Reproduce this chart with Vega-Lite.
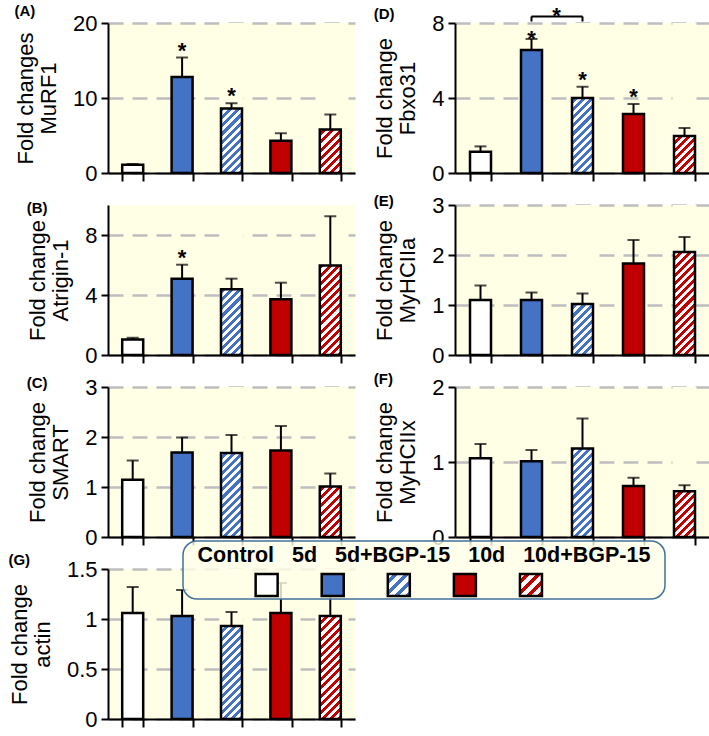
{
"$schema": "https://vega.github.io/schema/vega-lite/v6.json",
"padding": {"left": 8, "top": 4, "right": 2, "bottom": 2},
"background": "white",
"params": [
{"name": "gb", "value": {"gradient": "linear", "x1": 0, "y1": 0, "x2": 0.1565, "y2": 1.1181, "stops": [
{"offset":0,"color":"#fff"},{"offset":0.0238,"color":"#fff"},{"offset":0.0238,"color":"#4472c4"},{"offset":0.0476,"color":"#4472c4"},
{"offset":0.0476,"color":"#fff"},{"offset":0.0714,"color":"#fff"},{"offset":0.0714,"color":"#4472c4"},{"offset":0.0952,"color":"#4472c4"},
{"offset":0.0952,"color":"#fff"},{"offset":0.119,"color":"#fff"},{"offset":0.119,"color":"#4472c4"},{"offset":0.1429,"color":"#4472c4"},
{"offset":0.1429,"color":"#fff"},{"offset":0.1667,"color":"#fff"},{"offset":0.1667,"color":"#4472c4"},{"offset":0.1905,"color":"#4472c4"},
{"offset":0.1905,"color":"#fff"},{"offset":0.2143,"color":"#fff"},{"offset":0.2143,"color":"#4472c4"},{"offset":0.2381,"color":"#4472c4"},
{"offset":0.2381,"color":"#fff"},{"offset":0.2619,"color":"#fff"},{"offset":0.2619,"color":"#4472c4"},{"offset":0.2857,"color":"#4472c4"},
{"offset":0.2857,"color":"#fff"},{"offset":0.3095,"color":"#fff"},{"offset":0.3095,"color":"#4472c4"},{"offset":0.3333,"color":"#4472c4"},
{"offset":0.3333,"color":"#fff"},{"offset":0.3571,"color":"#fff"},{"offset":0.3571,"color":"#4472c4"},{"offset":0.381,"color":"#4472c4"},
{"offset":0.381,"color":"#fff"},{"offset":0.4048,"color":"#fff"},{"offset":0.4048,"color":"#4472c4"},{"offset":0.4286,"color":"#4472c4"},
{"offset":0.4286,"color":"#fff"},{"offset":0.4524,"color":"#fff"},{"offset":0.4524,"color":"#4472c4"},{"offset":0.4762,"color":"#4472c4"},
{"offset":0.4762,"color":"#fff"},{"offset":0.5,"color":"#fff"},{"offset":0.5,"color":"#4472c4"},{"offset":0.5238,"color":"#4472c4"},
{"offset":0.5238,"color":"#fff"},{"offset":0.5476,"color":"#fff"},{"offset":0.5476,"color":"#4472c4"},{"offset":0.5714,"color":"#4472c4"},
{"offset":0.5714,"color":"#fff"},{"offset":0.5952,"color":"#fff"},{"offset":0.5952,"color":"#4472c4"},{"offset":0.619,"color":"#4472c4"},
{"offset":0.619,"color":"#fff"},{"offset":0.6429,"color":"#fff"},{"offset":0.6429,"color":"#4472c4"},{"offset":0.6667,"color":"#4472c4"},
{"offset":0.6667,"color":"#fff"},{"offset":0.6905,"color":"#fff"},{"offset":0.6905,"color":"#4472c4"},{"offset":0.7143,"color":"#4472c4"},
{"offset":0.7143,"color":"#fff"},{"offset":0.7381,"color":"#fff"},{"offset":0.7381,"color":"#4472c4"},{"offset":0.7619,"color":"#4472c4"},
{"offset":0.7619,"color":"#fff"},{"offset":0.7857,"color":"#fff"},{"offset":0.7857,"color":"#4472c4"},{"offset":0.8095,"color":"#4472c4"},
{"offset":0.8095,"color":"#fff"},{"offset":0.8333,"color":"#fff"},{"offset":0.8333,"color":"#4472c4"},{"offset":0.8571,"color":"#4472c4"},
{"offset":0.8571,"color":"#fff"},{"offset":0.881,"color":"#fff"},{"offset":0.881,"color":"#4472c4"},{"offset":0.9048,"color":"#4472c4"},
{"offset":0.9048,"color":"#fff"},{"offset":0.9286,"color":"#fff"},{"offset":0.9286,"color":"#4472c4"},{"offset":0.9524,"color":"#4472c4"},
{"offset":0.9524,"color":"#fff"},{"offset":0.9762,"color":"#fff"},{"offset":0.9762,"color":"#4472c4"},{"offset":1,"color":"#4472c4"}]}},
{"name": "gr", "value": {"gradient": "linear", "x1": 0, "y1": 0, "x2": 0.1565, "y2": 1.1181, "stops": [
{"offset":0,"color":"#fff"},{"offset":0.0238,"color":"#fff"},{"offset":0.0238,"color":"#c00000"},{"offset":0.0476,"color":"#c00000"},
{"offset":0.0476,"color":"#fff"},{"offset":0.0714,"color":"#fff"},{"offset":0.0714,"color":"#c00000"},{"offset":0.0952,"color":"#c00000"},
{"offset":0.0952,"color":"#fff"},{"offset":0.119,"color":"#fff"},{"offset":0.119,"color":"#c00000"},{"offset":0.1429,"color":"#c00000"},
{"offset":0.1429,"color":"#fff"},{"offset":0.1667,"color":"#fff"},{"offset":0.1667,"color":"#c00000"},{"offset":0.1905,"color":"#c00000"},
{"offset":0.1905,"color":"#fff"},{"offset":0.2143,"color":"#fff"},{"offset":0.2143,"color":"#c00000"},{"offset":0.2381,"color":"#c00000"},
{"offset":0.2381,"color":"#fff"},{"offset":0.2619,"color":"#fff"},{"offset":0.2619,"color":"#c00000"},{"offset":0.2857,"color":"#c00000"},
{"offset":0.2857,"color":"#fff"},{"offset":0.3095,"color":"#fff"},{"offset":0.3095,"color":"#c00000"},{"offset":0.3333,"color":"#c00000"},
{"offset":0.3333,"color":"#fff"},{"offset":0.3571,"color":"#fff"},{"offset":0.3571,"color":"#c00000"},{"offset":0.381,"color":"#c00000"},
{"offset":0.381,"color":"#fff"},{"offset":0.4048,"color":"#fff"},{"offset":0.4048,"color":"#c00000"},{"offset":0.4286,"color":"#c00000"},
{"offset":0.4286,"color":"#fff"},{"offset":0.4524,"color":"#fff"},{"offset":0.4524,"color":"#c00000"},{"offset":0.4762,"color":"#c00000"},
{"offset":0.4762,"color":"#fff"},{"offset":0.5,"color":"#fff"},{"offset":0.5,"color":"#c00000"},{"offset":0.5238,"color":"#c00000"},
{"offset":0.5238,"color":"#fff"},{"offset":0.5476,"color":"#fff"},{"offset":0.5476,"color":"#c00000"},{"offset":0.5714,"color":"#c00000"},
{"offset":0.5714,"color":"#fff"},{"offset":0.5952,"color":"#fff"},{"offset":0.5952,"color":"#c00000"},{"offset":0.619,"color":"#c00000"},
{"offset":0.619,"color":"#fff"},{"offset":0.6429,"color":"#fff"},{"offset":0.6429,"color":"#c00000"},{"offset":0.6667,"color":"#c00000"},
{"offset":0.6667,"color":"#fff"},{"offset":0.6905,"color":"#fff"},{"offset":0.6905,"color":"#c00000"},{"offset":0.7143,"color":"#c00000"},
{"offset":0.7143,"color":"#fff"},{"offset":0.7381,"color":"#fff"},{"offset":0.7381,"color":"#c00000"},{"offset":0.7619,"color":"#c00000"},
{"offset":0.7619,"color":"#fff"},{"offset":0.7857,"color":"#fff"},{"offset":0.7857,"color":"#c00000"},{"offset":0.8095,"color":"#c00000"},
{"offset":0.8095,"color":"#fff"},{"offset":0.8333,"color":"#fff"},{"offset":0.8333,"color":"#c00000"},{"offset":0.8571,"color":"#c00000"},
{"offset":0.8571,"color":"#fff"},{"offset":0.881,"color":"#fff"},{"offset":0.881,"color":"#c00000"},{"offset":0.9048,"color":"#c00000"},
{"offset":0.9048,"color":"#fff"},{"offset":0.9286,"color":"#fff"},{"offset":0.9286,"color":"#c00000"},{"offset":0.9524,"color":"#c00000"},
{"offset":0.9524,"color":"#fff"},{"offset":0.9762,"color":"#fff"},{"offset":0.9762,"color":"#c00000"},{"offset":1,"color":"#c00000"}]}},
{"name": "gbs", "value": {"gradient": "linear", "x1": 0, "y1": 0, "x2": 1, "y2": 1, "stops": [
{"offset":0,"color":"#fff"},{"offset":0.125,"color":"#fff"},{"offset":0.125,"color":"#4472c4"},{"offset":0.25,"color":"#4472c4"},
{"offset":0.25,"color":"#fff"},{"offset":0.375,"color":"#fff"},{"offset":0.375,"color":"#4472c4"},{"offset":0.5,"color":"#4472c4"},
{"offset":0.5,"color":"#fff"},{"offset":0.625,"color":"#fff"},{"offset":0.625,"color":"#4472c4"},{"offset":0.75,"color":"#4472c4"},
{"offset":0.75,"color":"#fff"},{"offset":0.875,"color":"#fff"},{"offset":0.875,"color":"#4472c4"},{"offset":1,"color":"#4472c4"}]}},
{"name": "grs", "value": {"gradient": "linear", "x1": 0, "y1": 0, "x2": 1, "y2": 1, "stops": [
{"offset":0,"color":"#fff"},{"offset":0.125,"color":"#fff"},{"offset":0.125,"color":"#c00000"},{"offset":0.25,"color":"#c00000"},
{"offset":0.25,"color":"#fff"},{"offset":0.375,"color":"#fff"},{"offset":0.375,"color":"#c00000"},{"offset":0.5,"color":"#c00000"},
{"offset":0.5,"color":"#fff"},{"offset":0.625,"color":"#fff"},{"offset":0.625,"color":"#c00000"},{"offset":0.75,"color":"#c00000"},
{"offset":0.75,"color":"#fff"},{"offset":0.875,"color":"#fff"},{"offset":0.875,"color":"#c00000"},{"offset":1,"color":"#c00000"}]}}
],
"columns": 2,
"spacing": {"row": 32, "column": 100},
"bounds": "flush",
"concat": [
{
 "title": {"text": "(A)", "offset": -7}, "width": 247, "height": 150,
 "data": {"values": [
  {"group": "Control", "value": 1.1, "upper": 1.2, "sig": ""},
  {"group": "5d", "value": 12.8, "upper": 15.4, "sig": "*"},
  {"group": "5d+BGP-15", "value": 8.6, "upper": 9.3, "sig": "*"},
  {"group": "10d", "value": 4.3, "upper": 5.3, "sig": ""},
  {"group": "10d+BGP-15", "value": 5.8, "upper": 7.8, "sig": ""}]},
 "encoding": {"x": {"field": "group", "type": "nominal", "sort": null, "scale": {"domain": ["Control", "5d", "5d+BGP-15", "10d", "10d+BGP-15"], "paddingInner": 0.57, "paddingOuter": 0.285}, "axis": {"title": null}}},
 "layer": [
  {"transform": [{"filter": "datum.group === '5d+BGP-15'"}], "mark": {"type": "bar", "width": 21, "fill": {"expr": "gb"}},
   "encoding": {"y": {"datum": 20, "type": "quantitative", "scale": {"domain": [0, 20], "nice": false}}, "y2": {"datum": 0}}},
  {"transform": [{"filter": "datum.group === '10d+BGP-15'"}], "mark": {"type": "bar", "width": 21, "fill": {"expr": "gr"}},
   "encoding": {"y": {"datum": 20, "type": "quantitative"}, "y2": {"datum": 0}}},
  {"transform": [{"filter": "indexof(datum.group, 'BGP') >= 0"}], "mark": {"type": "bar", "width": 24, "fill": "#FFFFE6"},
   "encoding": {"y": {"field": "value", "type": "quantitative"}, "y2": {"datum": 20}}},
  {"mark": {"type": "bar", "width": 21, "stroke": "black", "strokeWidth": 2.5},
   "encoding": {"y": {"field": "value", "type": "quantitative", "stack": null,
     "axis": {"title": ["Fold changes", "MuRF1"], "grid": true, "values": [0, 2.5, 5, 7.5, 10, 12.5, 15, 17.5, 20], "format": "~g", "labelExpr": "datum.value % 5 ? '' : datum.label",
       "gridOpacity": {"condition": {"test": "datum.value % 5 === 0", "value": 1}, "value": 0}}},
    "fill": {"condition": [{"test": "datum.group === '5d'", "value": "#4472C4"}, {"test": "datum.group === '10d'", "value": "#C00000"}, {"test": "datum.group === 'Control'", "value": "#FFFFFF"}], "value": "transparent"}}},
  {"mark": {"type": "rule", "strokeWidth": 2, "color": "black"}, "encoding": {"y": {"field": "value", "type": "quantitative"}, "y2": {"field": "upper"}}},
  {"mark": {"type": "tick", "orient": "horizontal", "size": 12, "thickness": 2, "color": "black"}, "encoding": {"y": {"field": "upper", "type": "quantitative"}}},
  {"mark": {"type": "text", "fontSize": 22, "fontWeight": "bold", "baseline": "alphabetic", "color": "black"}, "encoding": {"y": {"field": "upper", "type": "quantitative"}, "text": {"field": "sig"}}}
 ]
},
{
 "title": {"text": "(D)", "offset": -17}, "width": 255, "height": 150,
 "data": {"values": [
  {"group": "Control", "value": 1.14, "upper": 1.42, "sig": ""},
  {"group": "5d", "value": 6.56, "upper": 7.15, "sig": "*"},
  {"group": "5d+BGP-15", "value": 4.0, "upper": 4.6, "sig": "*"},
  {"group": "10d", "value": 3.15, "upper": 3.68, "sig": "*"},
  {"group": "10d+BGP-15", "value": 1.97, "upper": 2.4, "sig": ""}]},
 "encoding": {"x": {"field": "group", "type": "nominal", "sort": null, "scale": {"domain": ["Control", "5d", "5d+BGP-15", "10d", "10d+BGP-15"], "paddingInner": 0.57, "paddingOuter": 0.285}, "axis": {"title": null}}},
 "layer": [
  {"transform": [{"filter": "datum.group === '5d+BGP-15'"}], "mark": {"type": "bar", "width": 21, "fill": {"expr": "gb"}},
   "encoding": {"y": {"datum": 8, "type": "quantitative", "scale": {"domain": [0, 8], "nice": false}}, "y2": {"datum": 0}}},
  {"transform": [{"filter": "datum.group === '10d+BGP-15'"}], "mark": {"type": "bar", "width": 21, "fill": {"expr": "gr"}},
   "encoding": {"y": {"datum": 8, "type": "quantitative"}, "y2": {"datum": 0}}},
  {"transform": [{"filter": "indexof(datum.group, 'BGP') >= 0"}], "mark": {"type": "bar", "width": 24, "fill": "#FFFFE6"},
   "encoding": {"y": {"field": "value", "type": "quantitative"}, "y2": {"datum": 8}}},
  {"mark": {"type": "bar", "width": 21, "stroke": "black", "strokeWidth": 2.5},
   "encoding": {"y": {"field": "value", "type": "quantitative", "stack": null,
     "axis": {"title": ["Fold change", "Fbxo31"], "grid": true, "values": [0, 1, 2, 3, 4, 5, 6, 7, 8], "format": "~g", "labelExpr": "datum.value % 2 ? '' : datum.label",
       "gridOpacity": {"condition": {"test": "datum.value % 2 === 0", "value": 1}, "value": 0}}},
    "fill": {"condition": [{"test": "datum.group === '5d'", "value": "#4472C4"}, {"test": "datum.group === '10d'", "value": "#C00000"}, {"test": "datum.group === 'Control'", "value": "#FFFFFF"}], "value": "transparent"}}},
  {"mark": {"type": "rule", "strokeWidth": 2, "color": "black"}, "encoding": {"y": {"field": "value", "type": "quantitative"}, "y2": {"field": "upper"}}},
  {"mark": {"type": "tick", "orient": "horizontal", "size": 12, "thickness": 2, "color": "black"}, "encoding": {"y": {"field": "upper", "type": "quantitative"}}},
  {"transform": [{"filter": "datum.group !== '5d'"}], "mark": {"type": "text", "fontSize": 22, "fontWeight": "bold", "baseline": "alphabetic", "color": "black"}, "encoding": {"y": {"field": "upper", "type": "quantitative"}, "text": {"field": "sig"}}},
  {"transform": [{"filter": "datum.group === '5d'"}], "mark": {"type": "text", "fontSize": 22, "fontWeight": "bold", "baseline": "alphabetic", "color": "black", "dy": 7}, "encoding": {"y": {"field": "upper", "type": "quantitative"}, "text": {"field": "sig"}}},
  {"data": {"values": [{"g": "5d"}, {"g": "5d+BGP-15"}]}, "mark": {"type": "rule", "strokeWidth": 2, "color": "black"}, "encoding": {"x": {"field": "g", "type": "nominal"}, "y": {"datum": 8.35}, "y2": {"datum": 8.08}}},
  {"data": {"values": [{"a": "5d", "b": "5d+BGP-15"}]}, "mark": {"type": "rule", "strokeWidth": 2, "color": "black"}, "encoding": {"x": {"field": "a", "type": "nominal"}, "x2": {"field": "b"}, "y": {"datum": 8.35}}},
  {"data": {"values": [{"a": "5d", "t": "*"}]}, "mark": {"type": "text", "fontSize": 22, "fontWeight": "bold", "baseline": "alphabetic", "color": "black", "dx": 25, "dy": 7}, "encoding": {"x": {"field": "a", "type": "nominal"}, "y": {"datum": 8.35}, "text": {"field": "t"}}}
 ]
},
{
 "title": {"text": "(B)", "offset": -18}, "width": 247, "height": 150,
 "data": {"values": [
  {"group": "Control", "value": 1.04, "upper": 1.15, "sig": ""},
  {"group": "5d", "value": 5.09, "upper": 6.02, "sig": "*"},
  {"group": "5d+BGP-15", "value": 4.38, "upper": 5.09, "sig": ""},
  {"group": "10d", "value": 3.72, "upper": 4.82, "sig": ""},
  {"group": "10d+BGP-15", "value": 5.97, "upper": 9.25, "sig": ""}]},
 "encoding": {"x": {"field": "group", "type": "nominal", "sort": null, "scale": {"domain": ["Control", "5d", "5d+BGP-15", "10d", "10d+BGP-15"], "paddingInner": 0.57, "paddingOuter": 0.285}, "axis": {"title": null}}},
 "layer": [
  {"transform": [{"filter": "datum.group === '5d+BGP-15'"}], "mark": {"type": "bar", "width": 21, "fill": {"expr": "gb"}},
   "encoding": {"y": {"datum": 10, "type": "quantitative", "scale": {"domain": [0, 10], "nice": false}}, "y2": {"datum": 0}}},
  {"transform": [{"filter": "datum.group === '10d+BGP-15'"}], "mark": {"type": "bar", "width": 21, "fill": {"expr": "gr"}},
   "encoding": {"y": {"datum": 10, "type": "quantitative"}, "y2": {"datum": 0}}},
  {"transform": [{"filter": "indexof(datum.group, 'BGP') >= 0"}], "mark": {"type": "bar", "width": 24, "fill": "#FFFFE6"},
   "encoding": {"y": {"field": "value", "type": "quantitative"}, "y2": {"datum": 10}}},
  {"mark": {"type": "bar", "width": 21, "stroke": "black", "strokeWidth": 2.5},
   "encoding": {"y": {"field": "value", "type": "quantitative", "stack": null,
     "axis": {"title": ["Fold change", "Atrigin-1"], "grid": true, "values": [0, 1, 2, 3, 4, 5, 6, 7, 8, 9, 10], "format": "~g", "labelExpr": "datum.value % 2 ? '' : datum.label",
       "gridOpacity": {"condition": {"test": "datum.value % 2 === 0", "value": 1}, "value": 0}}},
    "fill": {"condition": [{"test": "datum.group === '5d'", "value": "#4472C4"}, {"test": "datum.group === '10d'", "value": "#C00000"}, {"test": "datum.group === 'Control'", "value": "#FFFFFF"}], "value": "transparent"}}},
  {"mark": {"type": "rule", "strokeWidth": 2, "color": "black"}, "encoding": {"y": {"field": "value", "type": "quantitative"}, "y2": {"field": "upper"}}},
  {"mark": {"type": "tick", "orient": "horizontal", "size": 12, "thickness": 2, "color": "black"}, "encoding": {"y": {"field": "upper", "type": "quantitative"}}},
  {"mark": {"type": "text", "fontSize": 22, "fontWeight": "bold", "baseline": "alphabetic", "color": "black"}, "encoding": {"y": {"field": "upper", "type": "quantitative"}, "text": {"field": "sig"}}}
 ]
},
{
 "title": {"text": "(E)", "offset": -15}, "width": 255, "height": 150,
 "data": {"values": [
  {"group": "Control", "value": 1.1, "upper": 1.39, "sig": ""},
  {"group": "5d", "value": 1.1, "upper": 1.25, "sig": ""},
  {"group": "5d+BGP-15", "value": 1.02, "upper": 1.23, "sig": ""},
  {"group": "10d", "value": 1.83, "upper": 2.3, "sig": ""},
  {"group": "10d+BGP-15", "value": 2.06, "upper": 2.36, "sig": ""}]},
 "encoding": {"x": {"field": "group", "type": "nominal", "sort": null, "scale": {"domain": ["Control", "5d", "5d+BGP-15", "10d", "10d+BGP-15"], "paddingInner": 0.57, "paddingOuter": 0.285}, "axis": {"title": null}}},
 "layer": [
  {"transform": [{"filter": "datum.group === '5d+BGP-15'"}], "mark": {"type": "bar", "width": 21, "fill": {"expr": "gb"}},
   "encoding": {"y": {"datum": 3, "type": "quantitative", "scale": {"domain": [0, 3], "nice": false}}, "y2": {"datum": 0}}},
  {"transform": [{"filter": "datum.group === '10d+BGP-15'"}], "mark": {"type": "bar", "width": 21, "fill": {"expr": "gr"}},
   "encoding": {"y": {"datum": 3, "type": "quantitative"}, "y2": {"datum": 0}}},
  {"transform": [{"filter": "indexof(datum.group, 'BGP') >= 0"}], "mark": {"type": "bar", "width": 24, "fill": "#FFFFE6"},
   "encoding": {"y": {"field": "value", "type": "quantitative"}, "y2": {"datum": 3}}},
  {"mark": {"type": "bar", "width": 21, "stroke": "black", "strokeWidth": 2.5},
   "encoding": {"y": {"field": "value", "type": "quantitative", "stack": null,
     "axis": {"title": ["Fold change", "MyHCIIa"], "grid": true, "values": [0, 0.5, 1, 1.5, 2, 2.5, 3], "format": "~g", "labelExpr": "datum.value % 1 ? '' : datum.label",
       "gridOpacity": {"condition": {"test": "datum.value % 1 === 0", "value": 1}, "value": 0}}},
    "fill": {"condition": [{"test": "datum.group === '5d'", "value": "#4472C4"}, {"test": "datum.group === '10d'", "value": "#C00000"}, {"test": "datum.group === 'Control'", "value": "#FFFFFF"}], "value": "transparent"}}},
  {"mark": {"type": "rule", "strokeWidth": 2, "color": "black"}, "encoding": {"y": {"field": "value", "type": "quantitative"}, "y2": {"field": "upper"}}},
  {"mark": {"type": "tick", "orient": "horizontal", "size": 12, "thickness": 2, "color": "black"}, "encoding": {"y": {"field": "upper", "type": "quantitative"}}}
 ]
},
{
 "title": {"text": "(C)", "offset": -15}, "width": 247, "height": 150,
 "data": {"values": [
  {"group": "Control", "value": 1.145, "upper": 1.53, "sig": ""},
  {"group": "5d", "value": 1.69, "upper": 1.99, "sig": ""},
  {"group": "5d+BGP-15", "value": 1.68, "upper": 2.04, "sig": ""},
  {"group": "10d", "value": 1.73, "upper": 2.22, "sig": ""},
  {"group": "10d+BGP-15", "value": 1.01, "upper": 1.27, "sig": ""}]},
 "encoding": {"x": {"field": "group", "type": "nominal", "sort": null, "scale": {"domain": ["Control", "5d", "5d+BGP-15", "10d", "10d+BGP-15"], "paddingInner": 0.57, "paddingOuter": 0.285}, "axis": {"title": null}}},
 "layer": [
  {"transform": [{"filter": "datum.group === '5d+BGP-15'"}], "mark": {"type": "bar", "width": 21, "fill": {"expr": "gb"}},
   "encoding": {"y": {"datum": 3, "type": "quantitative", "scale": {"domain": [0, 3], "nice": false}}, "y2": {"datum": 0}}},
  {"transform": [{"filter": "datum.group === '10d+BGP-15'"}], "mark": {"type": "bar", "width": 21, "fill": {"expr": "gr"}},
   "encoding": {"y": {"datum": 3, "type": "quantitative"}, "y2": {"datum": 0}}},
  {"transform": [{"filter": "indexof(datum.group, 'BGP') >= 0"}], "mark": {"type": "bar", "width": 24, "fill": "#FFFFE6"},
   "encoding": {"y": {"field": "value", "type": "quantitative"}, "y2": {"datum": 3}}},
  {"mark": {"type": "bar", "width": 21, "stroke": "black", "strokeWidth": 2.5},
   "encoding": {"y": {"field": "value", "type": "quantitative", "stack": null,
     "axis": {"title": ["Fold change", "SMART"], "grid": true, "values": [0, 0.5, 1, 1.5, 2, 2.5, 3], "format": "~g", "labelExpr": "datum.value % 1 ? '' : datum.label",
       "gridOpacity": {"condition": {"test": "datum.value % 1 === 0", "value": 1}, "value": 0}}},
    "fill": {"condition": [{"test": "datum.group === '5d'", "value": "#4472C4"}, {"test": "datum.group === '10d'", "value": "#C00000"}, {"test": "datum.group === 'Control'", "value": "#FFFFFF"}], "value": "transparent"}}},
  {"mark": {"type": "rule", "strokeWidth": 2, "color": "black"}, "encoding": {"y": {"field": "value", "type": "quantitative"}, "y2": {"field": "upper"}}},
  {"mark": {"type": "tick", "orient": "horizontal", "size": 12, "thickness": 2, "color": "black"}, "encoding": {"y": {"field": "upper", "type": "quantitative"}}}
 ]
},
{
 "title": {"text": "(F)", "offset": -11}, "width": 255, "height": 150,
 "data": {"values": [
  {"group": "Control", "value": 1.05, "upper": 1.24, "sig": ""},
  {"group": "5d", "value": 1.01, "upper": 1.16, "sig": ""},
  {"group": "5d+BGP-15", "value": 1.18, "upper": 1.58, "sig": ""},
  {"group": "10d", "value": 0.68, "upper": 0.79, "sig": ""},
  {"group": "10d+BGP-15", "value": 0.61, "upper": 0.69, "sig": ""}]},
 "encoding": {"x": {"field": "group", "type": "nominal", "sort": null, "scale": {"domain": ["Control", "5d", "5d+BGP-15", "10d", "10d+BGP-15"], "paddingInner": 0.57, "paddingOuter": 0.285}, "axis": {"title": null}}},
 "layer": [
  {"transform": [{"filter": "datum.group === '5d+BGP-15'"}], "mark": {"type": "bar", "width": 21, "fill": {"expr": "gb"}},
   "encoding": {"y": {"datum": 2, "type": "quantitative", "scale": {"domain": [0, 2], "nice": false}}, "y2": {"datum": 0}}},
  {"transform": [{"filter": "datum.group === '10d+BGP-15'"}], "mark": {"type": "bar", "width": 21, "fill": {"expr": "gr"}},
   "encoding": {"y": {"datum": 2, "type": "quantitative"}, "y2": {"datum": 0}}},
  {"transform": [{"filter": "indexof(datum.group, 'BGP') >= 0"}], "mark": {"type": "bar", "width": 24, "fill": "#FFFFE6"},
   "encoding": {"y": {"field": "value", "type": "quantitative"}, "y2": {"datum": 2}}},
  {"mark": {"type": "bar", "width": 21, "stroke": "black", "strokeWidth": 2.5},
   "encoding": {"y": {"field": "value", "type": "quantitative", "stack": null,
     "axis": {"title": ["Fold change", "MyHCIIx"], "grid": true, "values": [0, 0.5, 1, 1.5, 2], "format": "~g", "labelExpr": "datum.value % 1 ? '' : datum.label",
       "gridOpacity": {"condition": {"test": "datum.value % 1 === 0", "value": 1}, "value": 0}}},
    "fill": {"condition": [{"test": "datum.group === '5d'", "value": "#4472C4"}, {"test": "datum.group === '10d'", "value": "#C00000"}, {"test": "datum.group === 'Control'", "value": "#FFFFFF"}], "value": "transparent"}}},
  {"mark": {"type": "rule", "strokeWidth": 2, "color": "black"}, "encoding": {"y": {"field": "value", "type": "quantitative"}, "y2": {"field": "upper"}}},
  {"mark": {"type": "tick", "orient": "horizontal", "size": 12, "thickness": 2, "color": "black"}, "encoding": {"y": {"field": "upper", "type": "quantitative"}}}
 ]
},
{
 "title": {"text": "(G)", "offset": -28}, "width": 247, "height": 150,
 "resolve": {"scale": {"x": "independent"}},
 "layer": [
  {
   "data": {"values": [
    {"group": "Control", "value": 1.06, "upper": 1.32, "sig": ""},
    {"group": "5d", "value": 1.03, "upper": 1.29, "sig": ""},
    {"group": "5d+BGP-15", "value": 0.93, "upper": 1.07, "sig": ""},
    {"group": "10d", "value": 1.06, "upper": 1.36, "sig": ""},
    {"group": "10d+BGP-15", "value": 1.03, "upper": 1.3, "sig": ""}]},
   "encoding": {"x": {"field": "group", "type": "nominal", "sort": null, "scale": {"domain": ["Control", "5d", "5d+BGP-15", "10d", "10d+BGP-15"], "paddingInner": 0.57, "paddingOuter": 0.285}, "axis": {"title": null}}},
   "layer": [
    {"transform": [{"filter": "datum.group === '5d+BGP-15'"}], "mark": {"type": "bar", "width": 21, "fill": {"expr": "gb"}},
     "encoding": {"y": {"datum": 1.5, "type": "quantitative", "scale": {"domain": [0, 1.5], "nice": false}}, "y2": {"datum": 0}}},
    {"transform": [{"filter": "datum.group === '10d+BGP-15'"}], "mark": {"type": "bar", "width": 21, "fill": {"expr": "gr"}},
     "encoding": {"y": {"datum": 1.5, "type": "quantitative"}, "y2": {"datum": 0}}},
    {"transform": [{"filter": "indexof(datum.group, 'BGP') >= 0"}], "mark": {"type": "bar", "width": 24, "fill": "#FFFFE6"},
     "encoding": {"y": {"field": "value", "type": "quantitative"}, "y2": {"datum": 1.5}}},
    {"mark": {"type": "bar", "width": 21, "stroke": "black", "strokeWidth": 2.5},
     "encoding": {"y": {"field": "value", "type": "quantitative", "stack": null,
       "axis": {"title": ["Fold change", "actin"], "grid": true, "values": [0, 0.25, 0.5, 0.75, 1, 1.25, 1.5], "format": "~g", "labelExpr": "datum.value % 0.5 ? '' : datum.label",
         "gridOpacity": {"condition": {"test": "datum.value % 0.5 === 0", "value": 1}, "value": 0}}},
      "fill": {"condition": [{"test": "datum.group === '5d'", "value": "#4472C4"}, {"test": "datum.group === '10d'", "value": "#C00000"}, {"test": "datum.group === 'Control'", "value": "#FFFFFF"}], "value": "transparent"}}},
    {"mark": {"type": "rule", "strokeWidth": 2, "color": "black"}, "encoding": {"y": {"field": "value", "type": "quantitative"}, "y2": {"field": "upper"}}},
    {"mark": {"type": "tick", "orient": "horizontal", "size": 12, "thickness": 2, "color": "black"}, "encoding": {"y": {"field": "upper", "type": "quantitative"}}}
   ]
  },
  {
   "data": {"values": [{"legend": "box"}]},
   "layer": [
    {"mark": {"type": "rect", "cornerRadius": 14, "fill": "#FFFFE6", "fillOpacity": 0.82, "stroke": "#41719C", "strokeWidth": 1.5},
     "encoding": {"x": {"datum": 0, "type": "quantitative", "scale": {"domain": [0, 1], "range": [75, 557]}, "axis": null}, "x2": {"datum": 1}, "y": {"datum": 1.78, "type": "quantitative"}, "y2": {"datum": 1.2}}},
    {"mark": {"type": "text", "text": "Control\u00a0\u00a0\u00a05d\u00a0\u00a0\u00a05d+BGP-15\u00a0\u00a0\u00a010d\u00a0\u00a0\u00a010d+BGP-15", "fontSize": 21.5, "fontWeight": "bold", "color": "black", "baseline": "middle", "align": "center"},
     "encoding": {"x": {"datum": 0.5, "type": "quantitative"}, "y": {"datum": 1.63, "type": "quantitative"}}}
   ]
  },
  {
   "data": {"values": [{"group": "Control"}, {"group": "5d"}, {"group": "5d+BGP-15"}, {"group": "10d"}, {"group": "10d+BGP-15"}]},
   "encoding": {"x": {"field": "group", "type": "nominal", "sort": null, "scale": {"type": "point", "domain": ["Control", "5d", "5d+BGP-15", "10d", "10d+BGP-15"], "range": [125.6, 456]}, "axis": null}, "y": {"datum": 1.34, "type": "quantitative"}},
   "layer": [
    {"transform": [{"filter": "indexof(datum.group, 'BGP') < 0"}], "mark": {"type": "point", "shape": "square", "size": 484, "filled": true, "opacity": 1, "stroke": "black", "strokeWidth": 2.5},
     "encoding": {"fill": {"condition": [{"test": "datum.group === '5d'", "value": "#4472C4"}, {"test": "datum.group === '10d'", "value": "#C00000"}], "value": "#FFFFFF"}}},
    {"transform": [{"filter": "datum.group === '5d+BGP-15'"}], "mark": {"type": "point", "shape": "square", "size": 484, "filled": true, "opacity": 1, "fill": {"expr": "gbs"}, "stroke": "black", "strokeWidth": 2.5}},
    {"transform": [{"filter": "datum.group === '10d+BGP-15'"}], "mark": {"type": "point", "shape": "square", "size": 484, "filled": true, "opacity": 1, "fill": {"expr": "grs"}, "stroke": "black", "strokeWidth": 2.5}}
   ]
  }
 ]
}
],
"config": {
 "view": {"fill": "#FFFFE6", "stroke": null},
 "font": "Liberation Sans",
 "title": {"fontSize": 15, "fontWeight": "bold", "anchor": "start", "frame": "bounds", "color": "black", "font": "Liberation Sans"},
 "axis": {"domainColor": "black", "domainWidth": 2, "tickColor": "black", "tickWidth": 2, "labelColor": "black", "labelFontSize": 22, "labelFont": "Liberation Sans", "titleFont": "Liberation Sans", "titleFontSize": 22, "titleFontWeight": "normal", "titleColor": "black", "gridColor": "#BEBEBE", "gridWidth": 2.5, "gridDash": [15, 9], "labelOverlap": false},
 "axisX": {"labels": false, "grid": false, "tickSize": 8, "tickBand": "extent"},
 "axisY": {"labelPadding": 4, "titlePadding": 12, "titleLineHeight": 23, "tickSize": 7}
}
}
